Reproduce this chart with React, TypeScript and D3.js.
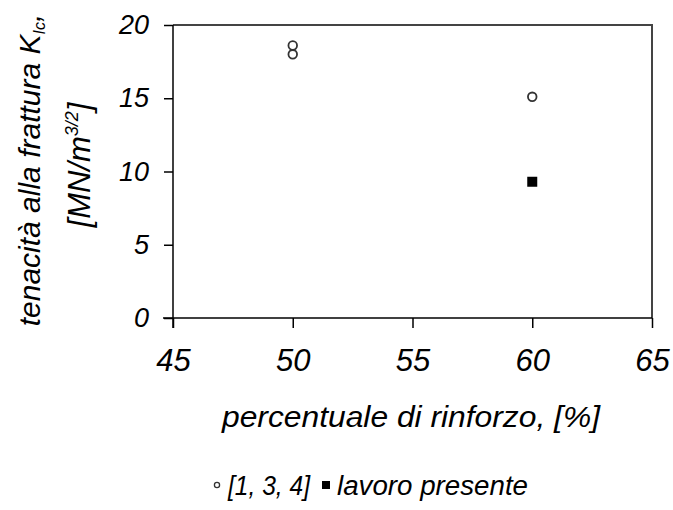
import React, { useRef, useEffect } from "react";
import { select, scaleLinear, axisLeft, axisBottom } from "d3";

// data
const refPercent = [50, 50, 60];
const refToughness = [18.6, 18.0, 15.1];
const presentPercent = [60];
const presentToughness = [9.3];

const xTicks = [45, 50, 55, 60, 65];
const yTicks = [0, 5, 10, 15, 20];

const legendLabels = ["[1, 3, 4]", "lavoro presente"];

const W = 673;
const H = 510;
const FONT = "'Liberation Sans', Arial, sans-serif";

function ToughnessChart() {
    const svgRef = useRef<SVGSVGElement>(null);

    useEffect(() => {
        const svg = select(svgRef.current);
        svg.selectAll("*").remove();

        const margin = { left: 173, right: 21, top: 25, bottom: 192 };
        const x = scaleLinear().domain([45, 65]).range([margin.left, W - margin.right]);
        const y = scaleLinear().domain([0, 20]).range([H - margin.bottom, margin.top]);

        // plot frame (top and right)
        svg.append("path")
            .attr("d", `M${x(45)},${y(20)}H${x(65)}V${y(0)}`)
            .attr("fill", "none")
            .attr("stroke", "#444")
            .attr("stroke-width", 2);

        // y axis
        const gy = svg.append("g")
            .attr("transform", `translate(${x(45)},0)`)
            .call(axisLeft(y).tickValues(yTicks).tickSize(9).tickSizeOuter(0).tickPadding(15));
        gy.select(".domain").attr("stroke", "#000").attr("stroke-width", 1.5)
            .attr("d", `M0,${y(20)}V${y(0) + 10}`);
        gy.selectAll(".tick line").attr("stroke", "#000").attr("stroke-width", 1.5);
        gy.selectAll(".tick text")
            .attr("font-family", FONT)
            .attr("font-style", "italic")
            .attr("font-size", 27)
            .attr("fill", "#000");

        // x axis
        const gx = svg.append("g")
            .attr("transform", `translate(0,${y(0)})`)
            .call(axisBottom(x).tickValues(xTicks).tickSize(10).tickSizeOuter(0).tickPadding(21));
        gx.select(".domain").attr("stroke", "#000").attr("stroke-width", 1.5)
            .attr("d", `M${x(45) - 10},0H${x(65)}`);
        gx.selectAll(".tick line").attr("stroke", "#000").attr("stroke-width", 1.5);
        gx.selectAll(".tick text")
            .attr("font-family", FONT)
            .attr("font-style", "italic")
            .attr("font-size", 31)
            .attr("fill", "#000");

        // reference points: open circles
        svg.selectAll(".ref")
            .data(refPercent.map((p, i) => ({ p, k: refToughness[i] })))
            .join("circle")
            .attr("class", "ref")
            .attr("cx", d => x(d.p))
            .attr("cy", d => y(d.k))
            .attr("r", 4.3)
            .attr("fill", "#fff")
            .attr("stroke", "#333")
            .attr("stroke-width", 1.8);

        // present work: filled squares
        const s = 10;
        svg.selectAll(".pres")
            .data(presentPercent.map((p, i) => ({ p, k: presentToughness[i] })))
            .join("rect")
            .attr("class", "pres")
            .attr("x", d => x(d.p) - s / 2)
            .attr("y", d => y(d.k) - s / 2)
            .attr("width", s)
            .attr("height", s)
            .attr("fill", "#000");

        // axis titles
        svg.append("text")
            .attr("x", 222)
            .attr("y", 427)
            .attr("textLength", 378)
            .attr("lengthAdjust", "spacingAndGlyphs")
            .attr("font-family", FONT)
            .attr("font-style", "italic")
            .attr("font-size", 30)
            .text("percentuale di rinforzo, [%]");

        const yt = svg.append("text")
            .attr("transform", "translate(40,170) rotate(-90)")
            .attr("text-anchor", "middle")
            .attr("font-family", FONT)
            .attr("font-style", "italic")
            .attr("font-size", 30);
        yt.append("tspan").text("tenacità alla frattura K");
        yt.append("tspan").attr("font-size", 16).attr("dy", 5).text("Ic");
        yt.append("tspan").attr("dy", -5).text(",");

        const yt2 = svg.append("text")
            .attr("transform", "translate(90,165) rotate(-90)")
            .attr("text-anchor", "middle")
            .attr("font-family", FONT)
            .attr("font-style", "italic")
            .attr("font-size", 31);
        yt2.append("tspan").text("[MN/m");
        yt2.append("tspan").attr("font-size", 18).attr("dy", -12).text("3/2");
        yt2.append("tspan").attr("dy", 12).text("]");

        // legend
        const ly = 485;
        const leg = svg.append("g");
        leg.append("circle")
            .attr("cx", 217).attr("cy", ly)
            .attr("r", 2.6).attr("fill", "#fff")
            .attr("stroke", "#333").attr("stroke-width", 1.3);
        leg.append("text")
            .attr("x", 228).attr("y", ly + 10)
            .attr("textLength", 82)
            .attr("lengthAdjust", "spacingAndGlyphs")
            .attr("font-family", FONT).attr("font-style", "italic").attr("font-size", 27)
            .text(legendLabels[0]);
        leg.append("rect")
            .attr("x", 322).attr("y", ly - 4)
            .attr("width", 8).attr("height", 8)
            .attr("fill", "#000");
        leg.append("text")
            .attr("x", 337).attr("y", ly + 10)
            .attr("textLength", 191)
            .attr("lengthAdjust", "spacingAndGlyphs")
            .attr("font-family", FONT).attr("font-style", "italic").attr("font-size", 27)
            .text(legendLabels[1]);
    }, []);

    return (
        <svg ref={svgRef} width={W} height={H} style={{ display: "block", background: "#fff" }} />
    );
}

export default function App() {
    return (
        <div style={{ position: "absolute", left: 0, top: 0 }}>
            <ToughnessChart />
        </div>
    );
}
